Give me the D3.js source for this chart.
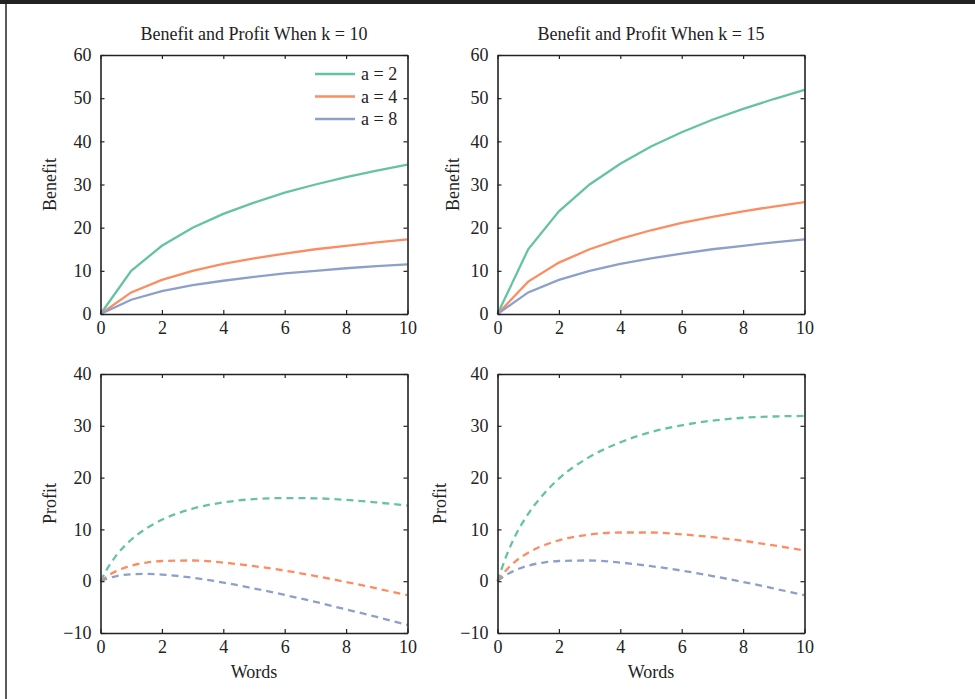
<!DOCTYPE html>
<html lang="en">
<head>
<meta charset="utf-8">
<title>Benefit and Profit</title>
<script src="https://cdn.jsdelivr.net/npm/d3@7"></script>
<style>
  body { margin: 0; background: #fff; }
  svg { display: block; font-family: "Liberation Serif", "DejaVu Serif", serif; }
  .tick text { font-size: 18px; fill: #222; }
</style>
</head>
<body>
<svg id="chart" width="975" height="699"></svg>
<script>
// series labels
var seriesNames = ["a = 2", "a = 4", "a = 8"];
var colors = ["#66c2a5", "#fc8d62", "#8da0cb"];

// benefit, read at whole words 0..10
var benefitX = [0, 1, 2, 3, 4, 5, 6, 7, 8, 9, 10];
var benefitK10 = [
  [0, 10, 15.8, 20, 23.2, 25.8, 28.1, 30, 31.7, 33.2, 34.6],
  [0, 5, 7.9, 10, 11.6, 12.9, 14.0, 15, 15.8, 16.6, 17.3],
  [0, 3.3, 5.3, 6.7, 7.7, 8.6, 9.4, 10, 10.6, 11.1, 11.5]
];
var benefitK15 = [
  [0, 15, 23.8, 30, 34.8, 38.8, 42.1, 45, 47.5, 49.8, 51.9],
  [0, 7.5, 11.9, 15, 17.4, 19.4, 21.1, 22.5, 23.8, 24.9, 25.9],
  [0, 5, 7.9, 10, 11.6, 12.9, 14.0, 15, 15.8, 16.6, 17.3]
];

// profit, smooth curves read at these x
var profitX = [0, 0.25, 0.5, 1, 1.5, 2, 3, 4, 5, 6, 7, 8, 9, 10];
var profitK10 = [
  [0, 2.7, 4.85, 8, 10.2, 11.85, 14, 15.2, 15.85, 16.05, 16, 15.7, 15.2, 14.6],
  [0, 1.1, 1.9, 3, 3.6, 3.9, 4, 3.6, 2.9, 2.05, 1, -0.15, -1.4, -2.7],
  [0, 0.57, 0.95, 1.33, 1.4, 1.28, 0.67, -0.26, -1.4, -2.65, -4, -5.45, -6.9, -8.45]
];
var profitK15 = [
  [0, 4.3, 7.8, 13, 16.8, 19.8, 24, 26.8, 28.8, 30.1, 31, 31.55, 31.8, 31.9],
  [0, 1.9, 3.4, 5.5, 6.9, 7.9, 9, 9.4, 9.4, 9.05, 8.5, 7.8, 6.9, 5.95],
  [0, 1.1, 1.9, 3, 3.6, 3.9, 4, 3.6, 2.9, 2.05, 1, -0.15, -1.4, -2.7]
];

var titles = ["Benefit and Profit When k = 10", "Benefit and Profit When k = 15"];
var xTicks = [0, 2, 4, 6, 8, 10];
var benefitTicks = [0, 10, 20, 30, 40, 50, 60];
var profitTicks = [-10, 0, 10, 20, 30, 40];

var svg = d3.select("#chart");

// page frame: dark strip on top, thin rule on the left
svg.append("rect").attr("x", 0).attr("y", 0).attr("width", 975).attr("height", 4).attr("fill", "#222");
svg.append("line").attr("x1", 6).attr("x2", 6).attr("y1", 0).attr("y2", 699)
  .attr("stroke", "#222").attr("stroke-width", 1.5);

var colLeft = [100.5, 497.5], plotW = 307;
var rowTop = [55, 374], plotH = 259;

var panels = [
  {col: 0, row: 0, xs: benefitX, ys: benefitK10, dom: [0, 60], ticks: benefitTicks, ylab: "Benefit", ylx: 56, dash: null, legend: true, title: titles[0]},
  {col: 1, row: 0, xs: benefitX, ys: benefitK15, dom: [0, 60], ticks: benefitTicks, ylab: "Benefit", ylx: 459, dash: null, legend: false, title: titles[1]},
  {col: 0, row: 1, xs: profitX, ys: profitK10, dom: [-10, 40], ticks: profitTicks, ylab: "Profit", ylx: 56, dash: "7,5", legend: false, xlab: "Words"},
  {col: 1, row: 1, xs: profitX, ys: profitK15, dom: [-10, 40], ticks: profitTicks, ylab: "Profit", ylx: 446, dash: "7,5", legend: false, xlab: "Words"}
];

panels.forEach(function(p) {
  var x0 = colLeft[p.col], y0 = rowTop[p.row];
  var x = d3.scaleLinear().domain([0, 10]).range([x0, x0 + plotW]);
  var y = d3.scaleLinear().domain(p.dom).range([y0 + plotH, y0]);
  var g = svg.append("g");
  var fmt = function(d) { return d < 0 ? "\u2212" + Math.abs(d) : d; };

  // lines
  var line = d3.line()
    .x(function(d) { return x(d[0]); })
    .y(function(d) { return y(d[1]); });
  if (p.dash) line.curve(d3.curveMonotoneX);

  p.ys.forEach(function(vals, i) {
    g.append("path")
      .datum(p.xs.map(function(v, j) { return [v, vals[j]]; }))
      .attr("d", line)
      .attr("fill", "none")
      .attr("stroke", colors[i])
      .attr("stroke-width", 2.3)
      .attr("stroke-dasharray", p.dash);
  });

  // axes, ticks pointing inward on all sides
  var bottom = g.append("g").attr("transform", "translate(0," + (y0 + plotH) + ")")
    .call(d3.axisBottom(x).tickValues(xTicks).tickSizeInner(-4).tickSizeOuter(0).tickPadding(7));
  var top = g.append("g").attr("transform", "translate(0," + y0 + ")")
    .call(d3.axisTop(x).tickValues(xTicks).tickSizeInner(-4).tickSizeOuter(0).tickFormat(""));
  var left = g.append("g").attr("transform", "translate(" + x0 + ",0)")
    .call(d3.axisLeft(y).tickValues(p.ticks).tickFormat(fmt).tickSizeInner(-4).tickSizeOuter(0).tickPadding(9));
  var right = g.append("g").attr("transform", "translate(" + (x0 + plotW) + ",0)")
    .call(d3.axisRight(y).tickValues(p.ticks).tickSizeInner(-4).tickSizeOuter(0).tickFormat(""));
  [bottom, top, left, right].forEach(function(a) {
    a.attr("font-family", null).attr("font-size", null);
    a.select(".domain").attr("stroke", "#222").attr("stroke-width", 1.6);
    a.selectAll(".tick line").attr("stroke", "#222").attr("stroke-width", 1.2);
  });
  bottom.selectAll("text").attr("dy", "0.71em");

  // labels
  svg.append("text")
    .attr("transform", "translate(" + p.ylx + "," + (y0 + plotH / 2) + ") rotate(-90)")
    .attr("text-anchor", "middle")
    .attr("font-size", 18).attr("fill", "#222")
    .text(p.ylab);
  if (p.title) {
    svg.append("text").attr("x", x0 + plotW / 2).attr("y", 40)
      .attr("text-anchor", "middle").attr("font-size", 18).attr("fill", "#222")
      .text(p.title);
  }
  if (p.xlab) {
    svg.append("text").attr("x", x0 + plotW / 2).attr("y", 678)
      .attr("text-anchor", "middle").attr("font-size", 18).attr("fill", "#222")
      .text(p.xlab);
  }

  if (p.legend) {
    var lg = g.append("g");
    seriesNames.forEach(function(name, i) {
      var ly = 74 + i * 22.5;
      lg.append("line").attr("x1", 315).attr("x2", 355).attr("y1", ly).attr("y2", ly)
        .attr("stroke", colors[i]).attr("stroke-width", 2.3);
      lg.append("text").attr("x", 361).attr("y", ly).attr("dy", "0.35em")
        .attr("font-size", 18).attr("fill", "#222").text(name);
    });
  }
});
</script>
</body>
</html>
